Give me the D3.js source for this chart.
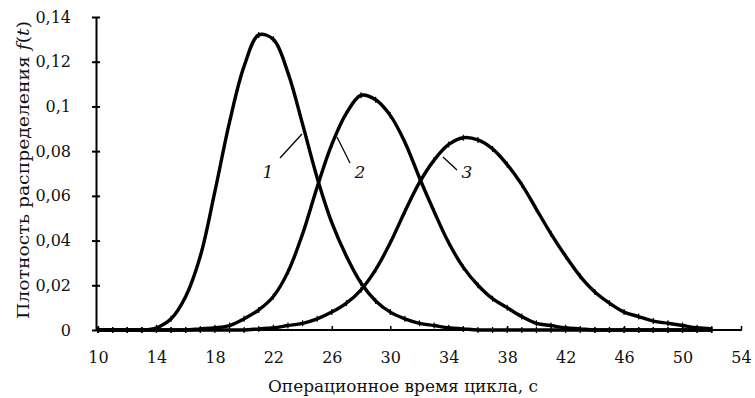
<!DOCTYPE html>
<html>
<head>
<meta charset="utf-8">
<script src="https://cdn.jsdelivr.net/npm/d3@7"></script>
<style>
  body { margin: 0; background: #fff; }
  svg text { font-family: "DejaVu Serif", serif; fill: #111; }
</style>
</head>
<body>
<script>
// время цикла, с (t = 10 .. 52)
const times = d3.range(10, 53)

// плотность распределения, кривые 1, 2, 3
const curve1 = [0, 0, 0, 0, 0.001, 0.005, 0.015, 0.033, 0.062, 0.093, 0.118, 0.132, 0.130, 0.115,
  0.092, 0.068, 0.048, 0.033, 0.021, 0.013, 0.008, 0.005, 0.003, 0.002, 0.001, 0.0005,
  0, 0, 0, 0, 0, 0, 0, 0, 0, 0, 0, 0, 0, 0, 0, 0, 0]
const curve2 = [0, 0, 0, 0, 0, 0, 0, 0.0005, 0.001, 0.002, 0.005, 0.009, 0.015, 0.026,
  0.043, 0.064, 0.083, 0.097, 0.105, 0.103, 0.096, 0.084, 0.068, 0.053, 0.039, 0.028,
  0.020, 0.014, 0.010, 0.006, 0.003, 0.002, 0.001, 0.0005, 0, 0, 0, 0, 0, 0, 0, 0, 0]
const curve3 = [0, 0, 0, 0, 0, 0, 0, 0, 0, 0, 0, 0.0005, 0.001, 0.002, 0.003, 0.005, 0.008,
  0.012, 0.018, 0.027, 0.039, 0.053, 0.066, 0.076, 0.083, 0.086, 0.085, 0.081, 0.074,
  0.065, 0.054, 0.043, 0.033, 0.024, 0.017, 0.012, 0.008, 0.006, 0.004, 0.003, 0.002,
  0.001, 0.0005]

const xTicks = [10, 14, 18, 22, 26, 30, 34, 38, 42, 46, 50, 54]
const yTicks = [0, 0.02, 0.04, 0.06, 0.08, 0.1, 0.12, 0.14]

const width = 755, height = 398

const svg = d3.select("body").append("svg")
    .attr("width", width)
    .attr("height", height)

const x = d3.scaleLinear().domain([10, 54]).range([98, 741])
const y = d3.scaleLinear().domain([0, 0.14]).range([330, 17])

const fmt = d => d === 0 ? "0" : String(d).replace(".", ",")

// оси
const yAxis = svg.append("g")
    .attr("transform", "translate(96,0)")
    .call(d3.axisLeft(y).tickValues(yTicks).tickFormat(fmt).tickSizeInner(4).tickSizeOuter(0).tickPadding(21))
yAxis.attr("font-family", null).attr("font-size", 16)
yAxis.select(".domain").attr("stroke-width", 2)
yAxis.selectAll(".tick line").attr("x1", 4).attr("x2", -4).attr("stroke-width", 2)

const xAxis = svg.append("g")
    .attr("transform", "translate(0,330)")
    .call(d3.axisBottom(x).tickValues(xTicks).tickFormat(d => d).tickSizeInner(-4).tickSizeOuter(0).tickPadding(22))
xAxis.attr("font-family", null).attr("font-size", 16)
xAxis.select(".domain").attr("stroke-width", 2).attr("d", "M96,0H742")
xAxis.selectAll(".tick line").attr("stroke-width", 1.5)

// подписи осей
svg.append("text")
    .attr("x", 403)
    .attr("y", 392)
    .attr("text-anchor", "middle")
    .attr("textLength", 270)
    .attr("lengthAdjust", "spacingAndGlyphs")
    .style("font-size", "17px")
    .text("Операционное время цикла, с")

const yTitle = svg.append("text")
    .attr("transform", "translate(29,170) rotate(-90)")
    .attr("text-anchor", "middle")
    .attr("textLength", 298)
    .attr("lengthAdjust", "spacingAndGlyphs")
    .style("font-size", "17px")
yTitle.append("tspan").text("Плотность распределения ")
yTitle.append("tspan").style("font-style", "italic").text("f")
yTitle.append("tspan").text("(")
yTitle.append("tspan").style("font-style", "italic").text("t")
yTitle.append("tspan").text(")")

// кривые
const line = d3.line()
    .x((d, i) => x(times[i]))
    .y(d => y(d))
    .curve(d3.curveCatmullRom.alpha(0.5))

const series = [curve1, curve2, curve3]

series.forEach(s => {
  svg.append("path")
      .datum(s)
      .attr("fill", "none")
      .attr("stroke", "#000")
      .attr("stroke-width", 3.4)
      .attr("d", line)

  svg.append("g").selectAll("line")
      .data(s)
      .enter()
      .append("line")
      .attr("x1", (d, i) => x(times[i]))
      .attr("x2", (d, i) => x(times[i]))
      .attr("y1", d => y(d) - 3)
      .attr("y2", d => y(d) + 3)
      .attr("stroke", "#000")
      .attr("stroke-width", 1.2)
})

// номера кривых
const labels = [
  {n: "1", tx: 268, ty: 178, l: [280, 158, 302, 134]},
  {n: "2", tx: 360, ty: 178, l: [350, 163, 337, 137]},
  {n: "3", tx: 467, ty: 178, l: [457, 170, 443, 157]}
]
labels.forEach(d => {
  svg.append("line")
      .attr("x1", d.l[0]).attr("y1", d.l[1])
      .attr("x2", d.l[2]).attr("y2", d.l[3])
      .attr("stroke", "#000")
      .attr("stroke-width", 1.3)
  svg.append("text")
      .attr("x", d.tx)
      .attr("y", d.ty)
      .attr("text-anchor", "middle")
      .style("font-size", "17px")
      .style("font-style", "italic")
      .text(d.n)
})
</script>
</body>
</html>
